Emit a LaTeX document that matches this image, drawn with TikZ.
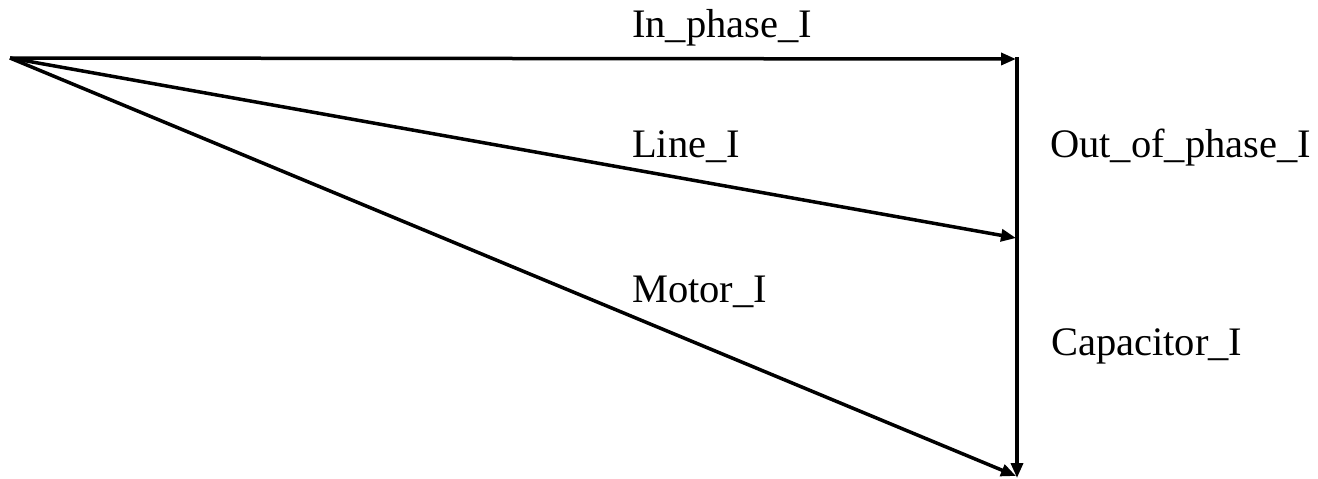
\documentclass[tikz,border=0pt]{standalone}
\usepackage{fontspec}
\setmainfont{Liberation Serif}
\usetikzlibrary{arrows.meta}
\begin{document}
\begin{tikzpicture}[x=1pt,y=-1pt,
  vec/.style={line width=3.5pt,-{Triangle[length=15pt,width=12pt]}},
  lbl/.style={font=\fontsize{40.5}{46}\selectfont,inner sep=0pt}]
\useasboundingbox (0,0) rectangle (1318,479);
\coordinate (O) at (10,58);
\coordinate (A) at (1016,59);
\coordinate (B) at (1016,238);
\coordinate (C) at (1016,476);
\coordinate (Vt) at (1017,57);
\coordinate (Vb) at (1017,478);
\draw[vec] (O) -- (A);
\draw[vec] (O) -- (B);
\draw[vec] (O) -- (C);
\draw[vec] (Vt) -- (Vb);
\node[lbl,anchor=base west] (l1) at (632,37) {In\_phase\_I};
\node[lbl,anchor=base west] (l2) at (632,157) {Line\_I};
\node[lbl,anchor=base west] (l3) at (632,302) {Motor\_I};
\node[lbl,anchor=base west] (l4) at (1050,157) {Out\_of\_phase\_I};
\node[lbl,anchor=base west] (l5) at (1051,355) {Capacitor\_I};
\end{tikzpicture}
\end{document}
